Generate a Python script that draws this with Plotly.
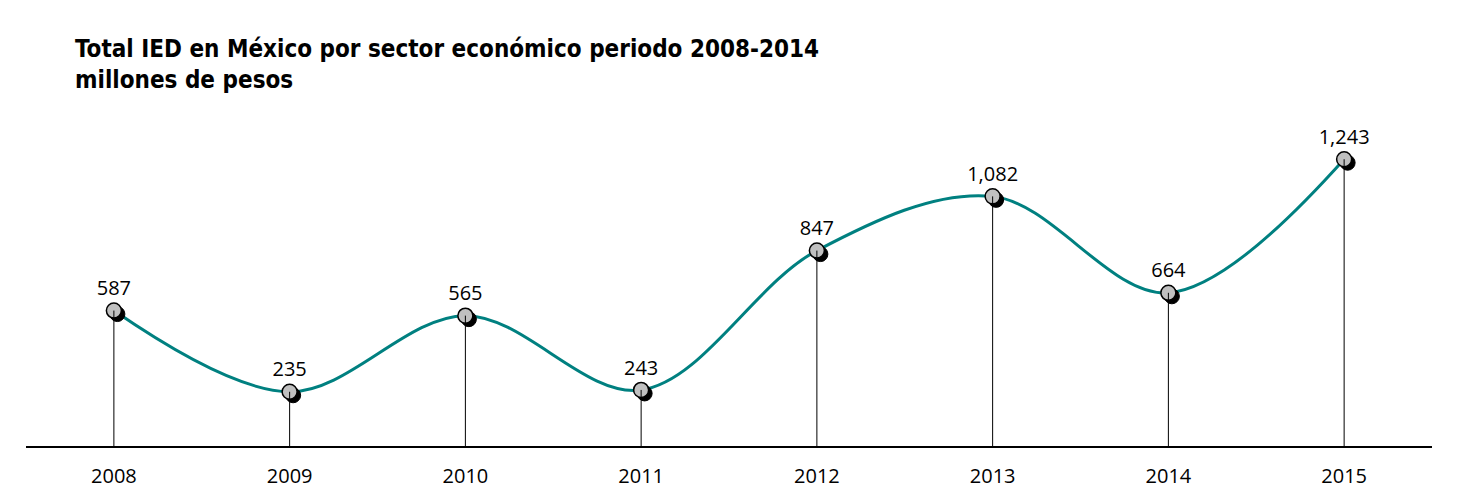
import plotly.graph_objects as go

years = ["2008", "2009", "2010", "2011", "2012", "2013", "2014", "2015"]
values = [587, 235, 565, 243, 847, 1082, 664, 1243]
labels = ["587", "235", "565", "243", "847", "1,082", "664", "1,243"]

W, H = 1460, 504
ML, MR, MT, MB = 26, 28, 123, 58
YMAX = 1400
xs = list(range(len(years)))
px_x = (W - ML - MR) / (len(years))          # px per category unit
px_y = (H - MT - MB) / YMAX                   # px per value unit
dx = 3.5 / px_x
dy = 3.5 / px_y

fig = go.Figure()

fig.add_trace(go.Scatter(
    x=xs, y=values, mode="lines",
    line=dict(color="#008080", width=3, shape="spline", smoothing=1),
    hoverinfo="skip", showlegend=False))

fig.add_trace(go.Scatter(
    x=[x + dx for x in xs], y=[v - dy for v in values], mode="markers",
    marker=dict(size=15, color="black", line=dict(color="black", width=1)),
    hoverinfo="skip", showlegend=False, cliponaxis=False))

fig.add_trace(go.Scatter(
    x=xs, y=values, mode="markers+text", text=labels, textposition="top center",
    textfont=dict(family="Open Sans", size=20, color="black"),
    marker=dict(size=15, color="#c0c0c0", line=dict(color="black", width=1.5)),
    showlegend=False, cliponaxis=False))

drop_x, drop_y = [], []
for x, v in zip(xs, values):
    drop_x += [x, x, None]
    drop_y += [0, v, None]
fig.add_trace(go.Scatter(
    x=drop_x, y=drop_y, mode="lines",
    line=dict(color="black", width=1),
    hoverinfo="skip", showlegend=False))

fig.update_layout(
    width=W, height=H,
    margin=dict(l=ML, r=MR, t=MT, b=MB),
    paper_bgcolor="white", plot_bgcolor="white",
    title=dict(
        text="<b>Total IED en México por sector económico periodo 2008-2014<br>millones de pesos</b>",
        font=dict(family="DejaVu Sans Condensed", size=24, color="black"),
        x=75 / W, xanchor="left", xref="container",
        y=1 - 57 / H, yanchor="top", yref="container"),
    xaxis=dict(
        range=[-0.5, len(years) - 0.5], tickvals=xs, ticktext=years,
        showgrid=False, zeroline=False, showline=True, linecolor="black", linewidth=1.5,
        ticks="outside", ticklen=11, tickcolor="rgba(0,0,0,0)",
        tickfont=dict(family="Open Sans", size=20, color="black")),
    yaxis=dict(range=[0, YMAX], visible=False, showgrid=False, zeroline=False),
)

fig.write_html("out.html")
